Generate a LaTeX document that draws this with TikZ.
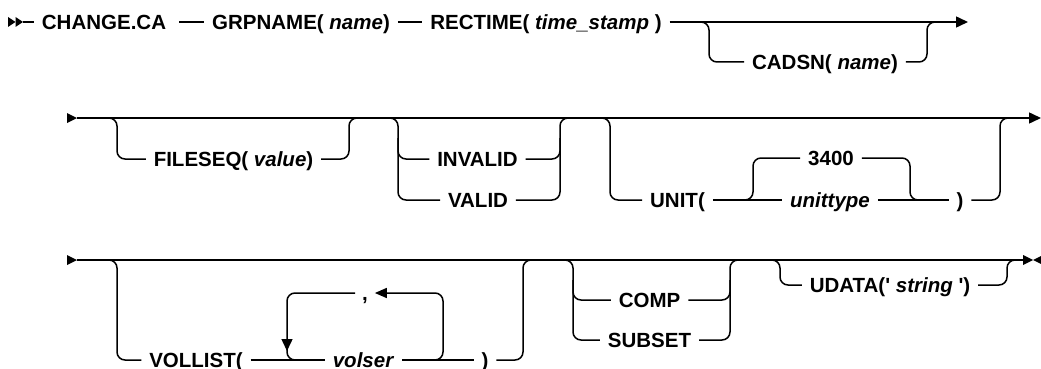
\documentclass[tikz,border=0pt]{standalone}
\usepackage{fontspec}
\setmainfont{Liberation Sans}
\usetikzlibrary{arrows.meta}
\begin{document}
\begin{tikzpicture}[x=1pt,y=-1pt,
  line/.style={line width=1.5pt, rounded corners=8pt},
  lbl/.style={font=\fontsize{20.5}{21}\selectfont\bfseries, text height=14.5pt, text depth=0pt,
     inner xsep=8pt, inner ysep=0pt, outer sep=0pt, anchor=center},
  endtip/.style={-{Triangle[length=12pt,width=11pt]}}]
\useasboundingbox (0,0) rectangle (1041,369);

% ---------------- Row 1 ----------------
\coordinate (s1) at (23,22);
\fill (8,17) -- (15.5,22) -- (8,27) -- cycle;
\fill (15.5,17) -- (23,22) -- (15.5,27) -- cycle;
\node[lbl] (chg) at (104,22) {CHANGE.CA};
\node[lbl] (grp) at (301,22) {GRPNAME( \textit{name})};
\node[lbl] (rec) at (546,22) {RECTIME( \textit{time\_stamp} )};
\node[lbl] (cad) at (825,62) {CADSN( \textit{name})};
\coordinate (e1) at (968,22);
\coordinate (b1l) at (709,22);
\coordinate (b1r) at (927,22);

\draw[line] (s1) -- (chg.west);
\draw[line] ([xshift=5pt]chg.east) -- (grp.west);
\draw[line] (grp.east) -- (rec.west);
\draw[line,endtip] (rec.east) -- (e1);
\draw[line] ([xshift=-12pt]b1l) -- (b1l) |- (cad.west);
\draw[line] (cad.east) -| (b1r) -- ++(12,0);

% ---------------- Row 2 ----------------
\coordinate (s2) at (77,118);
\fill (67,113) -- (77,118) -- (67,123) -- cycle;
\coordinate (e2) at (1041,118);
\draw[line,endtip] (s2) -- (e2);

\node[lbl] (fs) at (233.5,159) {FILESEQ( \textit{value})};
\coordinate (b2a) at (117,118);
\coordinate (b2b) at (349,118);
\draw[line] ([xshift=-12pt]b2a) -- (b2a) |- (fs.west);
\draw[line] (fs.east) -| (b2b) -- ++(12,0);

\node[lbl] (inv) at (477.5,159) {INVALID};
\node[lbl] (val) at (478,200) {VALID};
\coordinate (b2c) at (398,118);
\coordinate (b2d) at (560,118);
\draw[line] ([xshift=-12pt]b2c) -- (b2c) |- (inv.west);
\draw[line] ([yshift=-20pt]b2c) |- (val.west);
\draw[line] (inv.east) -| (b2d) -- ++(12,0);
\draw[line] (val.east) -| ([yshift=-20pt]b2d);

\node[lbl] (unit) at (677.5,200) {UNIT(};
\node[lbl] (d34) at (831,158) {3400};
\node[lbl] (ut) at (830,200) {\textit{unittype}};
\node[lbl] (rp2) at (960,200) {)};
\coordinate (b2e) at (610,118);
\coordinate (b2f) at (1000,118);
\coordinate (j1) at (753,200);
\coordinate (j2) at (910,200);
\draw[line] ([xshift=-12pt]b2e) -- (b2e) |- (unit.west);
\draw[line] (unit.east) -- (ut.west);
\draw[line] ([xshift=-12pt]j1) -- (j1) |- (d34.west);
\draw[line] (d34.east) -| (j2) -- ++(12,0);
\draw[line] (ut.east) -- (rp2.west);
\draw[line] (rp2.east) -| (b2f) -- ++(12,0);

% ---------------- Row 3 ----------------
\coordinate (s3) at (77,260);
\fill (67,255) -- (77,260) -- (67,265) -- cycle;
\coordinate (e3) at (1024,260);
\draw[line] (s3) -- (e3);
\fill (1023,255) -- (1033,260) -- (1023,265) -- cycle;
\fill (1043,255) -- (1033,260) -- (1043,265) -- cycle;

\node[lbl] (vl) at (196,360) {VOLLIST(};
\node[lbl] (vs) at (363.5,360) {\textit{volser}};
\node[lbl] (rp3) at (485,360) {)};
\node[lbl, inner xsep=7pt] (cm) at (365,293) {,};
\coordinate (b3a) at (117,260);
\coordinate (b3b) at (523,260);
\coordinate (lpl) at (287,293);
\coordinate (lpr) at (443,293);
\coordinate (lpar) at (287,351);
\draw[line] ([xshift=-12pt]b3a) -- (b3a) |- (vl.west);
\draw[line] (vl.east) -- (vs.west);
\draw[line] (vs.east) -- (rp3.west);
\draw[line] (rp3.east) -| (b3b) -- ++(12,0);
\draw[line,{Triangle[length=12pt,width=10pt]}-] (cm.east) -- (lpr) |- ([xshift=-12pt]vs.east -| lpr);
\draw[line,endtip] (cm.west) -- (lpl) -- (lpar);
\draw[line] ([yshift=4pt]lpar) |- ([xshift=12pt]vs.west -| lpl);

\node[lbl] (cmp) at (649.5,300) {COMP};
\node[lbl] (sub) at (649.5,340) {SUBSET};
\coordinate (b3c) at (573,260);
\coordinate (b3d) at (730,260);
\draw[line] ([xshift=-12pt]b3c) -- (b3c) |- (cmp.west);
\draw[line] ([yshift=-20pt]b3c) |- (sub.west);
\draw[line] (cmp.east) -| (b3d) -- ++(12,0);
\draw[line] (sub.east) -| ([yshift=-20pt]b3d);

\node[lbl] (ud) at (890,285) {UDATA(\textquotesingle\ \textit{string} \textquotesingle)};
\coordinate (b3e) at (780,260);
\coordinate (b3f) at (1007,260);
\draw[line] ([xshift=-12pt]b3e) -- (b3e) |- (ud.west);
\draw[line] (ud.east) -| (b3f) -- ++(12,0);
\end{tikzpicture}
\end{document}
